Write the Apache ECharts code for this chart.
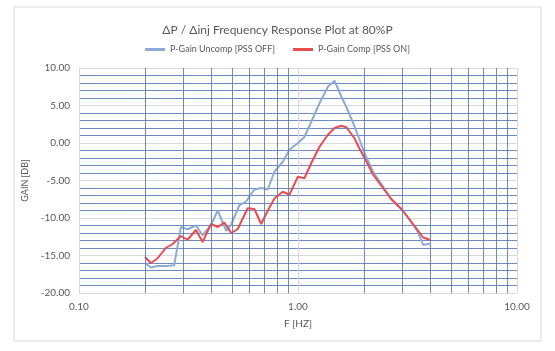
<!DOCTYPE html>
<html>
<head>
<meta charset="utf-8">
<script src="https://cdn.jsdelivr.net/npm/echarts@6/dist/echarts.min.js"></script>
<style>
  html, body { margin: 0; padding: 0; background: #fff; }
  #main { width: 555px; height: 351px; }
</style>
</head>
<body>
<div id="main"></div>
<script>
var freqOff = [0.20, 0.213, 0.228, 0.249, 0.272, 0.292, 0.313, 0.342, 0.367, 0.401, 0.430, 0.470, 0.495, 0.540, 0.579, 0.632, 0.679, 0.728, 0.781, 0.852, 0.914, 0.998, 1.07, 1.149, 1.254, 1.369, 1.469, 1.577, 1.662, 1.814, 1.912, 2.015, 2.199, 2.444, 2.670, 2.967, 3.237, 3.535, 3.727, 3.998];
var gainOff = [-16.0, -16.6, -16.4, -16.4, -16.3, -11.2, -11.5, -11.0, -12.3, -10.9, -9.0, -11.7, -10.9, -8.3, -7.8, -6.2, -6.0, -6.2, -3.8, -2.5, -0.9, 0.0, 0.8, 2.8, 5.3, 7.5, 8.3, 6.2, 4.8, 2.2, 0.4, -1.4, -3.8, -5.8, -7.5, -8.8, -10.3, -11.9, -13.6, -13.4];

var freqOn = [0.20, 0.213, 0.228, 0.249, 0.267, 0.292, 0.313, 0.342, 0.367, 0.401, 0.430, 0.461, 0.495, 0.530, 0.589, 0.632, 0.679, 0.728, 0.781, 0.852, 0.914, 0.998, 1.07, 1.149, 1.254, 1.369, 1.469, 1.577, 1.662, 1.814, 1.912, 2.015, 2.199, 2.444, 2.670, 2.967, 3.237, 3.535, 3.727, 3.998];
var gainOn = [-15.2, -16.0, -15.4, -14.0, -13.5, -12.4, -12.9, -11.6, -13.2, -10.8, -11.2, -10.6, -12.0, -11.5, -8.7, -8.8, -10.8, -9.0, -7.4, -6.5, -6.9, -4.5, -4.7, -2.7, -0.5, 1.1, 2.0, 2.3, 2.1, 0.6, -0.8, -2.0, -4.2, -6.0, -7.5, -8.8, -10.2, -11.7, -12.6, -12.9];

// minor log grid lines
var minorX = [0.2, 0.3, 0.4, 0.5, 0.6, 0.7, 0.8, 0.9, 2, 3, 4, 5, 6, 7, 8, 9];

var seriesNames = ['P-Gain Uncomp [PSS OFF]', 'P-Gain Comp [PSS ON]'];

function pairs(xs, ys) {
  var res = [];
  for (var i = 0; i < xs.length; i++) res.push([xs[i], ys[i]]);
  return res;
}

var txt = '#595959';
var fontFam = 'Lato, "Open Sans", sans-serif';

var myChart = echarts.init(document.getElementById('main'));
var option = {
  backgroundColor: '#fff',
  animation: false,
  textStyle: { fontFamily: fontFam },
  graphic: [{
    type: 'rect',
    shape: { x: 14, y: 7, width: 527, height: 334 },
    style: { fill: 'none', stroke: '#d9d9d9', lineWidth: 1 },
    silent: true
  }],
  title: {
    text: '\u0394P / \u0394inj Frequency Response Plot at 80%P',
    left: 'center',
    top: 19,
    textStyle: { fontSize: 12, fontWeight: 'normal', color: txt, fontFamily: fontFam }
  },
  legend: {
    top: 40,
    left: 'center',
    itemWidth: 20,
    itemHeight: 3,
    itemGap: 18,
    icon: 'rect',
    data: seriesNames,
    textStyle: { fontSize: 9, color: txt, fontFamily: fontFam }
  },
  grid: { left: 79, right: 38, top: 68, bottom: 58 },
  xAxis: {
    type: 'log',
    logBase: 10,
    min: 0.1,
    max: 10,
    name: 'F [HZ]',
    nameLocation: 'middle',
    nameGap: 26,
    nameTextStyle: { fontSize: 10, color: txt },
    axisLine: { show: false },
    axisTick: { show: false },
    axisLabel: {
      fontSize: 10, color: txt, margin: 9,
      formatter: function (v) { return v.toFixed(2); }
    },
    splitLine: { show: true, lineStyle: { color: '#d9d9d9', width: 1 } }
  },
  yAxis: {
    type: 'value',
    min: -20,
    max: 10,
    interval: 5,
    name: 'GAIN [DB]',
    nameLocation: 'middle',
    nameGap: 42,
    nameTextStyle: { fontSize: 9, color: txt },
    axisLine: { show: false },
    axisTick: { show: false },
    axisLabel: {
      fontSize: 10, color: txt, margin: 9,
      formatter: function (v) { return v.toFixed(2); }
    },
    splitLine: { show: true, lineStyle: { color: '#d9d9d9', width: 1 } },
    minorTick: { show: false, splitNumber: 5 },
    minorSplitLine: { show: true, lineStyle: { color: '#5677b0', width: 1, opacity: 0.85 } }
  },
  series: [
    {
      name: 'grid-minor',
      type: 'line',
      data: [],
      silent: true,
      markLine: {
        silent: true,
        symbol: 'none',
        label: { show: false },
        lineStyle: { color: '#5677b0', width: 1, type: 'solid', opacity: 0.85 },
        data: minorX.map(function (v) { return { xAxis: v }; })
      }
    },
    {
      name: seriesNames[0],
      type: 'line',
      data: pairs(freqOff, gainOff),
      showSymbol: false,
      lineStyle: { color: '#8eaad6', width: 2 },
      itemStyle: { color: '#8eaad6' }
    },
    {
      name: seriesNames[1],
      type: 'line',
      data: pairs(freqOn, gainOn),
      showSymbol: false,
      lineStyle: { color: '#ec4b4f', width: 2 },
      itemStyle: { color: '#ec4b4f' }
    }
  ]
};
myChart.setOption(option);
</script>
</body>
</html>
